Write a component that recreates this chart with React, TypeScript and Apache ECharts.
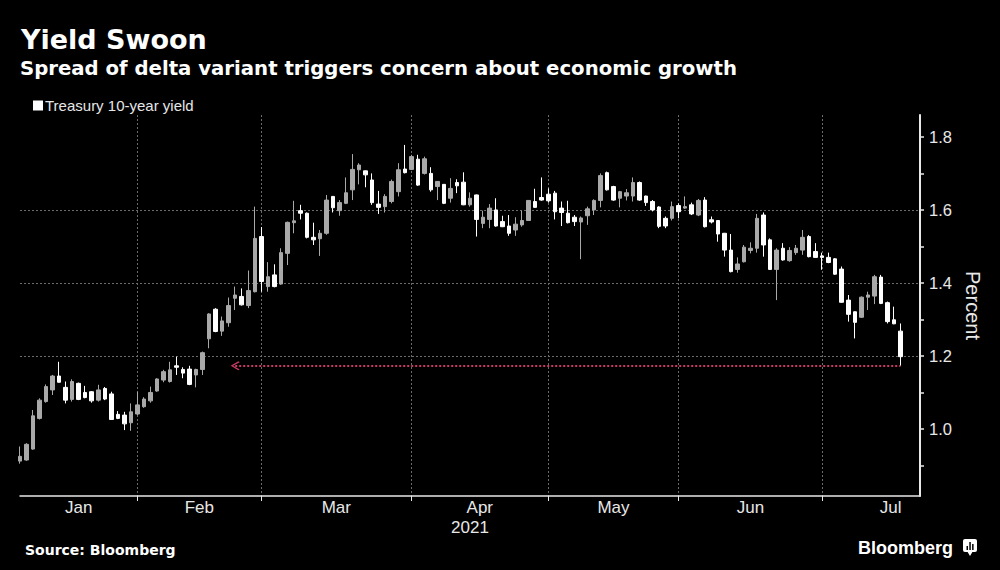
import React, { useEffect, useRef } from "react";
import * as echarts from "echarts";

// ---------- data ----------
const monthNames = ["Jan", "Feb", "Mar", "Apr", "May", "Jun", "Jul"];
// trading days shown per month, and full trading days of each month (for label centring)
const tradingDaysShown = [19, 19, 23, 21, 20, 22, 12];
const tradingDaysInMonth = [19, 19, 23, 21, 20, 22, 21];
const emptySlotsAfter = 3;

const openValues = [
  0.912, 0.915, 0.945, 1.029, 1.075, 1.107, 1.145, 1.114, 1.081, 1.125, 1.100, 1.102, 1.079, 1.111, 1.096, 1.040, 1.038, 1.017, 1.041,
  1.061, 1.077, 1.104, 1.134, 1.130, 1.173, 1.163, 1.164, 1.148, 1.163, 1.247, 1.328, 1.268, 1.291, 1.358, 1.363, 1.338, 1.376, 1.527,
  1.390, 1.422, 1.397, 1.481, 1.565, 1.598, 1.591, 1.525, 1.521, 1.536, 1.637, 1.598, 1.618, 1.655, 1.710, 1.707, 1.682, 1.616, 1.609, 1.623, 1.650, 1.712, 1.711,
  1.739, 1.700, 1.700, 1.664, 1.670, 1.632, 1.675, 1.676, 1.614, 1.641, 1.563, 1.574, 1.600, 1.568, 1.556, 1.545, 1.559, 1.571, 1.623, 1.634, 1.643,
  1.646, 1.605, 1.591, 1.580, 1.567, 1.584, 1.600, 1.626, 1.702, 1.664, 1.632, 1.638, 1.638, 1.675, 1.638, 1.623, 1.608, 1.577, 1.577, 1.612,
  1.605, 1.614, 1.586, 1.627, 1.573, 1.571, 1.536, 1.490, 1.437, 1.458, 1.489, 1.495, 1.586, 1.518, 1.437, 1.495, 1.461, 1.483, 1.490, 1.527, 1.486, 1.474,
  1.470, 1.466, 1.438, 1.353, 1.321, 1.306, 1.361, 1.364, 1.416, 1.346, 1.299, 1.268,
];
const closeValues = [
  0.925, 0.958, 1.036, 1.079, 1.116, 1.145, 1.128, 1.079, 1.130, 1.081, 1.086, 1.077, 1.107, 1.082, 1.026, 1.029, 1.014, 1.047, 1.066,
  1.082, 1.100, 1.137, 1.157, 1.162, 1.169, 1.153, 1.122, 1.163, 1.209, 1.315, 1.267, 1.296, 1.338, 1.367, 1.340, 1.379, 1.522, 1.404,
  1.417, 1.390, 1.483, 1.566, 1.570, 1.591, 1.525, 1.518, 1.536, 1.627, 1.606, 1.620, 1.647, 1.711, 1.723, 1.696, 1.620, 1.607, 1.637, 1.678, 1.710, 1.702, 1.746,
  1.668, 1.740, 1.655, 1.678, 1.618, 1.659, 1.666, 1.614, 1.632, 1.574, 1.580, 1.605, 1.556, 1.554, 1.536, 1.561, 1.571, 1.626, 1.607, 1.627, 1.625,
  1.595, 1.593, 1.565, 1.568, 1.578, 1.603, 1.626, 1.694, 1.655, 1.627, 1.650, 1.647, 1.675, 1.627, 1.620, 1.600, 1.555, 1.556, 1.609, 1.595,
  1.609, 1.589, 1.626, 1.554, 1.567, 1.534, 1.490, 1.431, 1.452, 1.498, 1.495, 1.577, 1.504, 1.437, 1.490, 1.463, 1.489, 1.495, 1.525, 1.472, 1.470, 1.470,
  1.456, 1.424, 1.347, 1.314, 1.292, 1.361, 1.367, 1.417, 1.344, 1.294, 1.288, 1.198,
];
const lowValues = [
  0.905, 0.913, 0.943, 1.026, 1.072, 1.093, 1.127, 1.070, 1.075, 1.079, 1.084, 1.072, 1.075, 1.079, 1.025, 1.027, 0.997, 0.995, 1.038,
  1.058, 1.072, 1.102, 1.128, 1.127, 1.148, 1.139, 1.120, 1.114, 1.148, 1.221, 1.265, 1.255, 1.280, 1.326, 1.338, 1.331, 1.374, 1.376,
  1.376, 1.388, 1.395, 1.449, 1.536, 1.574, 1.522, 1.504, 1.474, 1.532, 1.593, 1.584, 1.616, 1.627, 1.670, 1.662, 1.614, 1.589, 1.593, 1.618, 1.637, 1.700, 1.709,
  1.666, 1.697, 1.650, 1.627, 1.616, 1.620, 1.646, 1.613, 1.609, 1.527, 1.550, 1.550, 1.554, 1.553, 1.529, 1.529, 1.554, 1.570, 1.606, 1.625, 1.620,
  1.574, 1.556, 1.563, 1.556, 1.465, 1.559, 1.586, 1.607, 1.653, 1.625, 1.607, 1.626, 1.623, 1.625, 1.611, 1.596, 1.550, 1.550, 1.571, 1.577,
  1.603, 1.586, 1.583, 1.552, 1.563, 1.513, 1.472, 1.429, 1.428, 1.456, 1.481, 1.483, 1.472, 1.436, 1.353, 1.461, 1.458, 1.477, 1.477, 1.470, 1.469, 1.436,
  1.454, 1.422, 1.346, 1.294, 1.248, 1.304, 1.326, 1.342, 1.342, 1.289, 1.287, 1.173,
];
const highValues = [
  0.952, 0.961, 1.052, 1.084, 1.122, 1.148, 1.184, 1.130, 1.136, 1.127, 1.118, 1.104, 1.121, 1.115, 1.102, 1.049, 1.047, 1.070, 1.102,
  1.087, 1.116, 1.139, 1.162, 1.184, 1.198, 1.169, 1.173, 1.165, 1.212, 1.317, 1.331, 1.308, 1.360, 1.390, 1.385, 1.434, 1.609, 1.553,
  1.457, 1.451, 1.495, 1.568, 1.625, 1.614, 1.593, 1.565, 1.545, 1.641, 1.638, 1.627, 1.689, 1.753, 1.728, 1.708, 1.700, 1.652, 1.643, 1.683, 1.728, 1.778, 1.751,
  1.751, 1.746, 1.717, 1.679, 1.671, 1.687, 1.684, 1.703, 1.648, 1.642, 1.598, 1.616, 1.632, 1.584, 1.586, 1.580, 1.598, 1.627, 1.658, 1.689, 1.659,
  1.652, 1.623, 1.625, 1.586, 1.582, 1.609, 1.629, 1.700, 1.705, 1.666, 1.652, 1.657, 1.689, 1.678, 1.639, 1.627, 1.610, 1.582, 1.623, 1.618,
  1.637, 1.620, 1.630, 1.635, 1.582, 1.572, 1.537, 1.534, 1.470, 1.504, 1.511, 1.589, 1.593, 1.522, 1.495, 1.509, 1.498, 1.504, 1.545, 1.531, 1.509, 1.483,
  1.483, 1.468, 1.445, 1.367, 1.322, 1.363, 1.376, 1.422, 1.422, 1.349, 1.335, 1.289,
];

const yLabelValues = [1.0, 1.2, 1.4, 1.6, 1.8];
const returnLevel = 1.173; // latest low, dotted red line
const returnFromIndex = 33; // back to mid-February level

const seriesName = "Treasury 10-year yield";

// ---------- derived ----------
const categories: string[] = [];
monthNames.forEach((m, mi) => {
  for (let d = 0; d < tradingDaysShown[mi]; d++) categories.push(`${m} ${d + 1}`);
});
for (let i = 0; i < emptySlotsAfter; i++) categories.push(`pad${i}`);

const monthEnds: number[] = [];
{
  let acc = 0;
  tradingDaysShown.forEach((n) => {
    acc += n;
    monthEnds.push(acc - 1);
  });
}
const gridMonthEnds = monthEnds.slice(0, monthEnds.length - 1);
const labelMap = new Map<number, { name: string; half: boolean }>();
monthNames.forEach((m, mi) => {
  const start = mi === 0 ? 0 : monthEnds[mi - 1];
  const end = mi < monthNames.length - 1 ? monthEnds[mi] : monthEnds[mi - 1] + tradingDaysInMonth[mi];
  const c = (start + end) / 2;
  labelMap.set(Math.floor(c), { name: m, half: c % 1 !== 0 });
});

const candleData = openValues.map((o, i) => [o, closeValues[i], lowValues[i], highValues[i]]);
const lastIndex = openValues.length - 1;

const UP = "#a9a9a9";
const DOWN = "#ffffff";
const AXIS = "#e8e8e8";
const GRID = "#6c6c6c";
const SANS = "'Liberation Sans', Arial, sans-serif";
const BOLD = "'DejaVu Sans', Verdana, sans-serif";
const BAND = 900 / (categories.length - 1);

export default function App() {
  const ref = useRef<HTMLDivElement>(null);
  useEffect(() => {
    document.body.style.margin = "0";
    document.body.style.background = "#000";
    const chart = echarts.init(ref.current!, null, { renderer: "svg" });
    const isMonthEnd = (idx: number) => gridMonthEnds.includes(idx);
    chart.setOption({
      animation: false,
      backgroundColor: "#000000",
      grid: { left: 20, right: 80, top: 115, bottom: 74, containLabel: false, outerBoundsMode: "none" },
      legend: {
        left: 28,
        top: 93,
        itemWidth: 10,
        itemHeight: 10,
        itemGap: 10,
        selectedMode: false,
        data: [{ name: seriesName, icon: "rect", itemStyle: { color: "#ffffff", borderWidth: 0 } }],
        textStyle: { color: "#e6e6e6", fontSize: 15, fontFamily: SANS, padding: [0, 0, 0, -3] },
      },
      xAxis: {
        type: "category",
        data: categories,
        boundaryGap: false,
        axisLine: { show: true, lineStyle: { color: AXIS, width: 1.5 } },
        axisTick: { show: true, interval: isMonthEnd, length: 5, lineStyle: { color: AXIS, width: 1 } },
        splitLine: { show: true, interval: isMonthEnd, lineStyle: { color: GRID, width: 1, type: [2, 2] } },
        axisLabel: {
          interval: (idx: number) => labelMap.has(idx),
          formatter: (_v: string, idx: number) => {
            const l = labelMap.get(idx);
            if (!l) return "";
            return l.half ? `{h|${l.name}}` : `{n|${l.name}}`;
          },
          margin: 3,
          color: AXIS,
          fontSize: 17,
          fontFamily: SANS,
          rich: {
            h: { padding: [0, 0, 0, BAND], color: AXIS, fontSize: 17, fontFamily: SANS },
            n: { color: AXIS, fontSize: 17, fontFamily: SANS },
          },
        },
      },
      yAxis: {
        type: "value",
        position: "right",
        min: 0.8164,
        max: 1.86,
        minInterval: 0.2,
        maxInterval: 0.2,
        name: "Percent",
        nameLocation: "middle",
        nameRotate: -90,
        nameGap: 36,
        nameTextStyle: { color: AXIS, fontSize: 20, fontFamily: SANS },
        axisLine: { show: true, lineStyle: { color: AXIS, width: 2 } },
        axisTick: { show: true, inside: false, length: 4, customValues: yLabelValues, lineStyle: { color: AXIS, width: 1.5 } },
        minorTick: { show: true, splitNumber: 2, length: 4, lineStyle: { color: AXIS, width: 1.5 } },
        splitLine: { show: true, showMinLine: false, showMaxLine: false, lineStyle: { color: GRID, width: 1, type: [2, 2] } },
        axisLabel: {
          customValues: yLabelValues,
          margin: 9,
          color: AXIS,
          fontSize: 16.5,
          fontFamily: SANS,
          formatter: (v: number) => (Math.abs(v * 5 - Math.round(v * 5)) < 1e-6 ? v.toFixed(1) : ""),
        },
      },
      series: [
        {
          type: "candlestick",
          name: seriesName,
          data: candleData,
          barWidth: 4,
          itemStyle: { color: UP, color0: DOWN, borderColor: UP, borderColor0: DOWN, borderWidth: 1 },
          markLine: {
            silent: true,
            animation: false,
            symbol: ["path://M5,0 L10,8 L9,9.5 L5,2.6 L1,9.5 L0,8 Z", "none"],
            symbolSize: [9, 9],
            label: { show: false },
            lineStyle: { color: "#c93a63", width: 1.8, type: [2, 2] },
            data: [[{ coord: [returnFromIndex, returnLevel] }, { coord: [lastIndex, returnLevel] }]],
          },
        },
      ],
      graphic: [
        { type: "text", x: 21, y: 39, style: { text: "Yield Swoon", fill: "#ffffff", fontSize: 27, fontWeight: "bold", fontFamily: BOLD, textVerticalAlign: "middle", verticalAlign: "middle" } },
        {
          type: "text",
          x: 20,
          y: 68.5,
          style: { text: "Spread of delta variant triggers concern about economic growth", fill: "#ffffff", fontSize: 19.7, fontWeight: "bold", fontFamily: BOLD, textVerticalAlign: "middle", verticalAlign: "middle" },
        },
        { type: "text", x: 470, y: 527, style: { text: "2021", fill: AXIS, fontSize: 17, fontFamily: SANS, textAlign: "center", align: "center", textVerticalAlign: "middle", verticalAlign: "middle" } },
        { type: "text", x: 25, y: 549.5, style: { text: "Source: Bloomberg", fill: "#ffffff", fontSize: 14, fontWeight: "bold", fontFamily: BOLD, textVerticalAlign: "middle", verticalAlign: "middle" } },
        { type: "text", x: 858, y: 547.5, style: { text: "Bloomberg", fill: "#ffffff", fontSize: 18, fontWeight: "bold", fontFamily: SANS, textVerticalAlign: "middle", verticalAlign: "middle" } },
        {
          type: "group",
          x: 963,
          y: 539,
          children: [
            { type: "rect", shape: { x: 0, y: 0, width: 14, height: 13, r: 2 }, style: { fill: "#ffffff" } },
            { type: "polygon", shape: { points: [[4, 12], [7, 17], [10, 12]] }, style: { fill: "#ffffff" } },
            { type: "rect", shape: { x: 3.5, y: 7, width: 1.5, height: 4 }, style: { fill: "#000000" } },
            { type: "rect", shape: { x: 6.3, y: 3, width: 1.5, height: 8 }, style: { fill: "#000000" } },
            { type: "rect", shape: { x: 9.1, y: 5, width: 1.5, height: 6 }, style: { fill: "#000000" } },
          ],
        },
      ],
    });
    return () => chart.dispose();
  }, []);
  return <div ref={ref} style={{ position: "fixed", left: 0, top: 0, width: 1000, height: 570, background: "#000" }} />;
}
